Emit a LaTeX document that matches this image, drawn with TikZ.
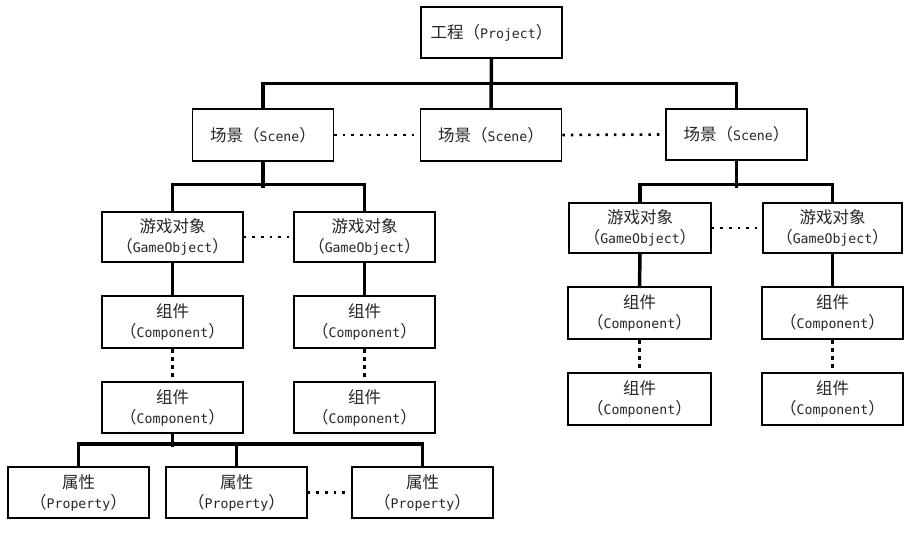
\documentclass[tikz,border=0pt]{standalone}
\usepackage{fontspec}
\newfontfamily\cjk{Noto Sans CJK SC}
\newfontfamily\lat{DejaVu Sans Mono}
\newcommand\zh[1]{{\cjk #1}}
\newcommand\en[1]{{\lat\fontsize{13.2}{20}\selectfont #1}}
\newcommand\lab[2]{\zh{#1}\\\zh{（}\en{#2}\zh{）}}
\newcommand\one[2]{\zh{#1（}\en{#2}\zh{）}}
\tikzset{
  box/.style={draw, line width=1.5pt, rectangle, align=center, inner sep=0pt,
    minimum width=141pt, minimum height=51pt, text=black!85,
    font=\fontsize{16.5}{20}\selectfont},
  tree/.style={line width=3.5pt, line cap=rect},
  link/.style={line width=2.6pt, dash pattern=on 2.6pt off 6pt},
  vlink/.style={line width=3pt, dash pattern=on 4.5pt off 3.5pt},
}
\begin{document}
\begin{tikzpicture}[x=1pt,y=-1pt]
\useasboundingbox[fill=white] (0,0) rectangle (913,533);

% project and scenes
\node[box] (proj) at (491.5,32.5) {\one{工程}{Project}};
\node[box,minimum height=52pt] (sc1) at (263,135) {\one{场景}{Scene}};
\node[box,minimum height=52pt] (sc2) at (491,135) {\one{场景}{Scene}};
\node[box] (sc3) at (736.5,134.5) {\one{场景}{Scene}};

% game objects
\node[box,minimum height=50pt] (go1) at (172.5,237) {\lab{游戏对象}{GameObject}};
\node[box,minimum height=50pt] (go2) at (364.5,237) {\lab{游戏对象}{GameObject}};
\node[box,minimum height=50pt,minimum width=142pt] (go3) at (640,228) {\lab{游戏对象}{GameObject}};
\node[box,minimum height=50pt,minimum width=139pt] (go4) at (832.5,228) {\lab{游戏对象}{GameObject}};

% components
\node[box,minimum height=52pt] (c1a) at (172.5,322) {\lab{组件}{Component}};
\node[box] (c1b) at (172.5,407.5) {\lab{组件}{Component}};
\node[box,minimum height=52pt] (c2a) at (364.5,322) {\lab{组件}{Component}};
\node[box] (c2b) at (364.5,407.5) {\lab{组件}{Component}};
\node[box,minimum height=52pt,minimum width=143pt] (c3a) at (639.5,313) {\lab{组件}{Component}};
\node[box,minimum height=52pt,minimum width=143pt] (c3b) at (639.5,399) {\lab{组件}{Component}};
\node[box,minimum height=52pt] (c4a) at (832.5,313) {\lab{组件}{Component}};
\node[box,minimum height=52pt] (c4b) at (832.5,399) {\lab{组件}{Component}};

% properties
\node[box] (p1) at (78.5,492.5) {\lab{属性}{Property}};
\node[box] (p2) at (236.5,492.5) {\lab{属性}{Property}};
\node[box] (p3) at (422.5,492.5) {\lab{属性}{Property}};

% hierarchy lines
\draw[tree] (proj.south) -- (sc2.north);
\draw[tree] (sc1.north) -- ++(0,-25) -| (sc3.north);
\draw[tree] (sc1.south) -- ++(0,24);
\draw[tree] (go1.north) -- ++(0,-27) -| (go2.north);
\draw[tree] (sc3.south) -- ++(0,25);
\draw[tree] (go3.north) -- ++(0,-18) -| (go4.north);
\draw[tree] (go1.south) -- (c1a.north);
\draw[tree] (go2.south) -- (c2a.north);
\draw[tree] (go3.south) -- (c3a.north);
\draw[tree] (go4.south) -- (c4a.north);
\draw[tree] (c1b.south) -- ++(0,11);
\draw[tree] (p1.north) -- ++(0,-22.5) -| (p3.north);
\draw[tree] (p2.north) -- ++(0,-22.5);

% sibling links
\draw[link] (sc1.east) -- (sc2.west);
\draw[link] (sc2.east) -- (sc3.west);
\draw[link] (go1.east) -- (go2.west);
\draw[link] (go3.east) -- (go4.west);
\draw[link] (p2.east) -- (p3.west);
\draw[vlink] (c1a.south) -- (c1b.north);
\draw[vlink] (c2a.south) -- (c2b.north);
\draw[vlink] (c3a.south) -- (c3b.north);
\draw[vlink] (c4a.south) -- (c4b.north);
\end{tikzpicture}
\end{document}
